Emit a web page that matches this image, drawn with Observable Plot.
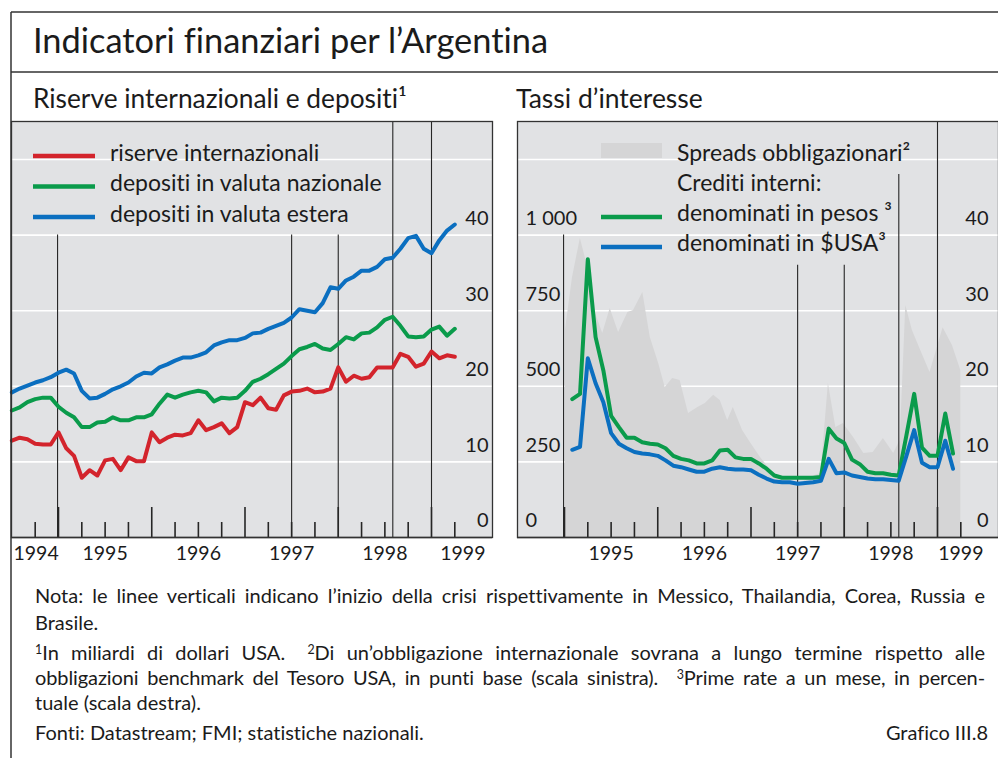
<!DOCTYPE html>
<html lang="it">
<head>
<meta charset="utf-8">
<script src="https://cdn.jsdelivr.net/npm/d3@7"></script>
<script src="https://cdn.jsdelivr.net/npm/@observablehq/plot@0.6"></script>
<style>
  html,body{margin:0;padding:0;background:#fff;}
  #root{position:relative;width:998px;height:758px;overflow:hidden;font-family:Lato,"Open Sans",sans-serif;color:#1b1b1b;font-variant-ligatures:none;}
  .panel{position:absolute;}
  .note{position:absolute;left:35px;width:950px;font-size:20px;line-height:1;white-space:nowrap;}
  .just{text-align:justify;text-align-last:justify;}
  .note sup{font-size:0.62em;vertical-align:0.5em;line-height:0;}
  #overlay text{font-variant-ligatures:none;}
</style>
</head>
<body>
<div id="root">
  <div id="left" class="panel" style="left:11px;top:121px;"></div>
  <div id="right" class="panel" style="left:517px;top:121px;"></div>
  <svg id="overlay" width="998" height="758" style="position:absolute;left:0;top:0;pointer-events:none;font-family:Lato,sans-serif;"></svg>
  <div class="note just" style="top:585.3px">Nota: le linee verticali indicano l’inizio della crisi rispettivamente in Messico, Thailandia, Corea, Russia e</div>
  <div class="note" style="top:612.3px">Brasile.</div>
  <div class="note just" style="top:642.3px"><sup>1</sup>In miliardi di dollari USA.&ensp; <sup>2</sup>Di un’obbligazione internazionale sovrana a lungo termine rispetto alle</div>
  <div class="note just" style="top:667.3px;letter-spacing:-0.1px">obbligazioni benchmark del Tesoro USA, in punti base (scala sinistra).&ensp; <sup>3</sup>Prime rate a un mese, in percen-</div>
  <div class="note" style="top:692.3px">tuale (scala destra).</div>
  <div class="note" style="top:722.3px">Fonti: Datastream; FMI; statistiche nazionali.</div>
  <div class="note" style="top:722.3px;text-align:right;width:953px;">Grafico III.8</div>
</div>
<script>
// ---------------- DATA ----------------
// Left panel: monthly, starting July 1994 (USD billions)
const leftStart = "1994-07";
const reserves = [
  12.8, 13.2, 13.0, 12.4, 12.3, 12.3,
  13.9, 11.8, 10.8, 7.9, 8.9, 8.2, 10.2, 10.4, 8.9, 10.6, 10.1, 10.1,
  13.9, 12.6, 13.2, 13.6, 13.5, 13.8, 15.5, 14.2, 14.6, 15.1, 13.8, 14.6,
  17.9, 17.5, 18.5, 17.1, 16.9, 18.8, 19.3, 19.4, 19.7, 19.2, 19.3, 19.7,
  22.5, 20.6, 21.4, 21.0, 21.2, 22.5, 22.5, 22.5, 24.3, 23.9, 22.6, 23.0,
  24.6, 23.7, 24.1, 23.9
];
const depositsPesos = [
  16.8, 17.2, 17.9, 18.3, 18.5, 18.5,
  17.3, 16.5, 15.9, 14.6, 14.6, 15.2, 15.3, 15.9, 15.5, 15.5, 15.9, 15.9,
  16.3, 17.7, 18.9, 18.5, 18.9, 19.2, 19.4, 19.2, 18.0, 18.5, 18.4, 18.5,
  19.4, 20.6, 21.0, 21.6, 22.3, 23.0, 24.0, 24.9, 25.2, 25.6, 25.0, 24.8,
  25.6, 26.5, 26.2, 27.0, 27.1, 27.8, 28.8, 29.2, 28.0, 26.6, 26.5, 26.6,
  27.5, 27.9, 26.7, 27.6
];
const depositsForeign = [
  19.2, 19.7, 20.1, 20.5, 20.8, 21.2,
  21.8, 22.2, 21.7, 19.4, 18.4, 18.5, 19.0, 19.6, 20.0, 20.5, 21.3, 21.8,
  21.7, 22.5, 22.9, 23.4, 23.8, 23.8, 24.1, 24.5, 25.4, 25.8, 26.1, 26.1,
  26.4, 27.0, 27.1, 27.6, 28.0, 28.4, 29.1, 30.2, 30.0, 29.8, 31.0, 33.1,
  32.9, 34.0, 34.5, 35.3, 35.3, 35.8, 36.8, 37.0, 38.2, 39.6, 39.9, 38.2,
  37.6, 39.3, 40.6, 41.4
];

// Right panel: prime rates, monthly from February 1995 (percent)
const rightStart = "1995-02";
const ratePesos = [
  18.3, 19.0, 36.8, 26.5, 22.1, 16.1, 14.6, 13.2, 13.2, 12.6, 12.4,
  12.3, 11.8, 10.8, 10.4, 10.2, 9.8, 9.8, 10.2, 11.5, 11.6, 10.6, 10.4,
  10.4, 9.8, 9.1, 8.2, 7.9, 7.9, 7.9, 7.9, 7.9, 8.0, 14.4, 13.1,
  12.5, 10.3, 9.7, 8.7, 8.5, 8.5, 8.3, 8.2, 13.5, 19.0, 11.9, 10.8,
  10.8, 16.4, 11.1
];
const rateUSD = [
  11.6, 12.0, 23.7, 20.4, 17.9, 13.8, 12.4, 11.8, 11.3, 11.1, 11.0,
  10.8, 10.2, 9.5, 9.3, 9.0, 8.7, 8.7, 9.1, 9.3, 9.1, 9.0, 9.0,
  8.9, 8.3, 7.8, 7.4, 7.3, 7.3, 7.1, 7.2, 7.3, 7.5, 10.4, 8.5,
  8.6, 8.2, 8.0, 7.8, 7.7, 7.7, 7.6, 7.5, 10.8, 14.2, 9.9, 9.3,
  9.3, 12.8, 9.1
];

// Sovereign bond spreads (basis points), dates as decimal years
const spreadDates = [1995.01, 1995.086, 1995.17, 1995.25, 1995.31, 1995.41, 1995.49, 1995.58, 1995.68, 1995.74, 1995.84, 1995.92,
  1996.01, 1996.08, 1996.16, 1996.24, 1996.33, 1996.43, 1996.51, 1996.60, 1996.67, 1996.75, 1996.81, 1996.91,
  1997.0, 1997.10, 1997.24, 1997.39, 1997.50, 1997.61, 1997.75, 1997.83, 1997.91, 1997.99,
  1998.10, 1998.21, 1998.31, 1998.42, 1998.53, 1998.60, 1998.66, 1998.73, 1998.82, 1998.92,
  1999.06, 1999.16, 1999.25];
const spreadBp = [685, 860, 989, 893, 761, 675, 757, 678, 744, 751, 810, 661,
  575, 496, 526, 519, 410, 430, 443, 470, 453, 387, 430, 354,
  311, 265, 212, 195, 165, 198, 212, 509, 364, 377,
  331, 278, 281, 327, 278, 321, 767, 685, 618, 546,
  694, 635, 552];

// Crises: Messico, Thailandia, Corea, Russia, Brasile (decimal years)
const crisisNames = ["Messico", "Thailandia", "Corea", "Russia", "Brasile"];
const crisisDates = [1994.99, 1997.5, 1998.0, 1998.585, 1999.0];

// Tick labels
const yearLabels = [1994, 1995, 1996, 1997, 1998, 1999];
const leftTickValues = [0, 10, 20, 30, 40];
const rightTickBp = [0, 250, 500, 750, 1000];
const rightTickPct = [0, 10, 20, 30, 40];

const legendLeftLabels = ["riserve internazionali", "depositi in valuta nazionale", "depositi in valuta estera"];
const legendRightLabels = ["Spreads obbligazionari²", "Crediti interni:", "denominati in pesos ³", "denominati in $USA³"];

// ---------------- STYLE ----------------
const RED = "#d3242c", GREEN = "#0a9b4b", BLUE = "#0b6fc0";
const PANEL_BG = "#e1e2e4", AREA = "#d5d5d6", INK = "#1b1b1b", RULE = "#262626";
const FRAME_W = 481, FRAME_H = 416, MB = 34;
const PX_PER_10 = 75.6;
const X_DOMAIN = [1994.496, 1994.496 + FRAME_W / 93.25];
const PCT_TO_BP = 25; // 10% on right scale = 250 bp on left scale

function monthSeq(start, n) {
  const [y, m] = start.split("-").map(Number);
  return d3.range(n).map(i => y + (m - 1 + i) / 12);
}
const lx = monthSeq(leftStart, reserves.length);
const rx = monthSeq(rightStart, ratePesos.length);
const toRows = (xs, vs) => vs.map((v, i) => ({t: xs[i], v}));

const quarters = d3.range(1994.75, 1999.3, 0.25);
const isYear = d => Math.abs(d - Math.round(d)) < 1e-6;

function yearText(lastDx) {
  const fs = 19.5;
  return [
    Plot.text(yearLabels.slice(1, -1), {x: d => d + 0.5, text: d => String(d), frameAnchor: "bottom", dy: 16, lineAnchor: "middle", fontSize: fs, fill: INK}),
    Plot.text([String(yearLabels[yearLabels.length - 1])], {text: d => d, frameAnchor: "bottom-right", textAnchor: "end", dx: lastDx, dy: 16, lineAnchor: "middle", fontSize: fs, fill: INK})
  ];
}

const commonStyle = {fontFamily: "Lato, sans-serif", background: "transparent", overflow: "visible", color: INK};

// ---------------- LEFT PANEL ----------------
const leftPlot = Plot.plot({
  width: FRAME_W, height: FRAME_H + MB,
  marginTop: 0, marginRight: 0, marginBottom: MB, marginLeft: 0,
  x: {domain: X_DOMAIN, axis: null},
  y: {domain: [0, FRAME_H / PX_PER_10 * 10], axis: null},
  style: commonStyle,
  marks: [
    Plot.frame({fill: PANEL_BG, stroke: null}),
    Plot.ruleY([10, 20, 30, 40, 50], {stroke: "#fff", strokeWidth: 1.6}),
    Plot.ruleX(crisisDates.slice(0, 3), {y1: 0, y2: 40, stroke: RULE, strokeWidth: 1.1}),
    Plot.ruleX(crisisDates.slice(3), {stroke: RULE, strokeWidth: 1.1}),
    Plot.ruleX(quarters.filter(d => !isYear(d)), {insetTop: FRAME_H - 15, stroke: RULE, strokeWidth: 1.6}),
    Plot.ruleX(quarters.filter(isYear), {insetTop: FRAME_H - 30, stroke: RULE, strokeWidth: 1.6}),
    Plot.line(toRows(lx, reserves), {x: "t", y: "v", stroke: RED, strokeWidth: 4, strokeLinejoin: "round"}),
    Plot.line(toRows(lx, depositsPesos), {x: "t", y: "v", stroke: GREEN, strokeWidth: 4, strokeLinejoin: "round"}),
    Plot.line(toRows(lx, depositsForeign), {x: "t", y: "v", stroke: BLUE, strokeWidth: 4, strokeLinejoin: "round"}),
    Plot.text(leftTickValues, {y: d => d, text: d => String(d), frameAnchor: "right", textAnchor: "end", dx: -4, dy: -16.5, fontSize: 20, fill: INK}),
    Plot.text([String(yearLabels[0])], {text: d => d, frameAnchor: "bottom-left", textAnchor: "start", dx: 2, dy: 16, lineAnchor: "middle", fontSize: 19.5, fill: INK}),
    ...yearText(-7),
    Plot.ruleY([0], {stroke: "#333", strokeWidth: 1.6}),
    Plot.frame({stroke: "#333", strokeWidth: 1.3})
  ]
});
document.getElementById("left").append(leftPlot);

// ---------------- RIGHT PANEL ----------------
const ruleTopsRight = [1000, 900, 900, 1200];
const rightPlot = Plot.plot({
  width: FRAME_W, height: FRAME_H + MB,
  marginTop: 0, marginRight: 0, marginBottom: MB, marginLeft: 0,
  x: {domain: X_DOMAIN, axis: null},
  y: {domain: [0, FRAME_H / PX_PER_10 * 10 * PCT_TO_BP], axis: null},
  style: commonStyle,
  marks: [
    Plot.frame({fill: PANEL_BG, stroke: null}),
    Plot.ruleY([250, 500, 750, 1000, 1250], {stroke: "#fff", strokeWidth: 1.6}),
    Plot.areaY(toRows(spreadDates, spreadBp), {x: "t", y: "v", fill: AREA}),
    Plot.ruleX(crisisDates.slice(0, 4).map((d, i) => ({t: d, top: ruleTopsRight[i]})), {x: "t", y1: 0, y2: "top", stroke: RULE, strokeWidth: 1.1}),
    Plot.ruleX(crisisDates.slice(4), {stroke: RULE, strokeWidth: 1.1}),
    Plot.ruleX(quarters.filter(d => d >= 1995 && !isYear(d)), {insetTop: FRAME_H - 15, stroke: RULE, strokeWidth: 1.6}),
    Plot.ruleX(quarters.filter(isYear), {insetTop: FRAME_H - 30, stroke: RULE, strokeWidth: 1.6}),
    Plot.line(toRows(rx, ratePesos), {x: "t", y: d => d.v * PCT_TO_BP, stroke: GREEN, strokeWidth: 4, strokeLinejoin: "round"}),
    Plot.line(toRows(rx, rateUSD), {x: "t", y: d => d.v * PCT_TO_BP, stroke: BLUE, strokeWidth: 4, strokeLinejoin: "round"}),
    Plot.text(rightTickBp, {y: d => d, text: d => d3.format(",")(d).replace(",", " "), frameAnchor: "left", textAnchor: "start", dx: 8, dy: -16.5, fontSize: 20, fill: INK}),
    Plot.text(rightTickPct, {y: d => d * PCT_TO_BP, text: d => String(d), frameAnchor: "right", textAnchor: "end", dx: -10, dy: -16.5, fontSize: 20, fill: INK}),
    ...yearText(-15),
    Plot.ruleY([0], {stroke: "#333", strokeWidth: 1.6}),
    Plot.frame({stroke: "#333", strokeWidth: 1.3})
  ]
});
document.getElementById("right").append(rightPlot);

// ---------------- OVERLAY: frame, titles, legends ----------------
const svg = d3.select("#overlay");
const frameColor = "#333";
svg.append("line").attr("x1", 11).attr("y1", 12).attr("x2", 998).attr("y2", 12).attr("stroke", frameColor).attr("stroke-width", 1.5);
svg.append("line").attr("x1", 11).attr("y1", 12).attr("x2", 11).attr("y2", 758).attr("stroke", frameColor).attr("stroke-width", 1.5);
svg.append("line").attr("x1", 11).attr("y1", 72).attr("x2", 998).attr("y2", 72).attr("stroke", frameColor).attr("stroke-width", 1.5);

const txt = (x, y, s, size) => svg.append("text").attr("x", x).attr("y", y).attr("font-size", size).attr("fill", INK).text(s);
txt(33, 53, "Indicatori finanziari per l’Argentina", 34.4);
txt(33, 108, "Riserve internazionali e depositi¹", 26.3);
txt(516, 108, "Tassi d’interesse", 26.5);

const leftColors = [RED, GREEN, BLUE];
legendLeftLabels.forEach((lab, i) => {
  const yc = 156 + i * 30.5;
  svg.append("line").attr("x1", 33).attr("x2", 95).attr("y1", yc).attr("y2", yc).attr("stroke", leftColors[i]).attr("stroke-width", 4.5);
  txt(110, yc + 4.5, lab, 23);
});

svg.append("rect").attr("x", 601).attr("y", 143).attr("width", 61).attr("height", 15).attr("fill", AREA);
legendRightLabels.forEach((lab, i) => txt(677, 160.5 + i * 30, lab, 23));
[[GREEN, 217], [BLUE, 247]].forEach(([c, y]) => {
  svg.append("line").attr("x1", 601).attr("x2", 662).attr("y1", y).attr("y2", y).attr("stroke", c).attr("stroke-width", 4.5);
});
</script>
</body>
</html>
